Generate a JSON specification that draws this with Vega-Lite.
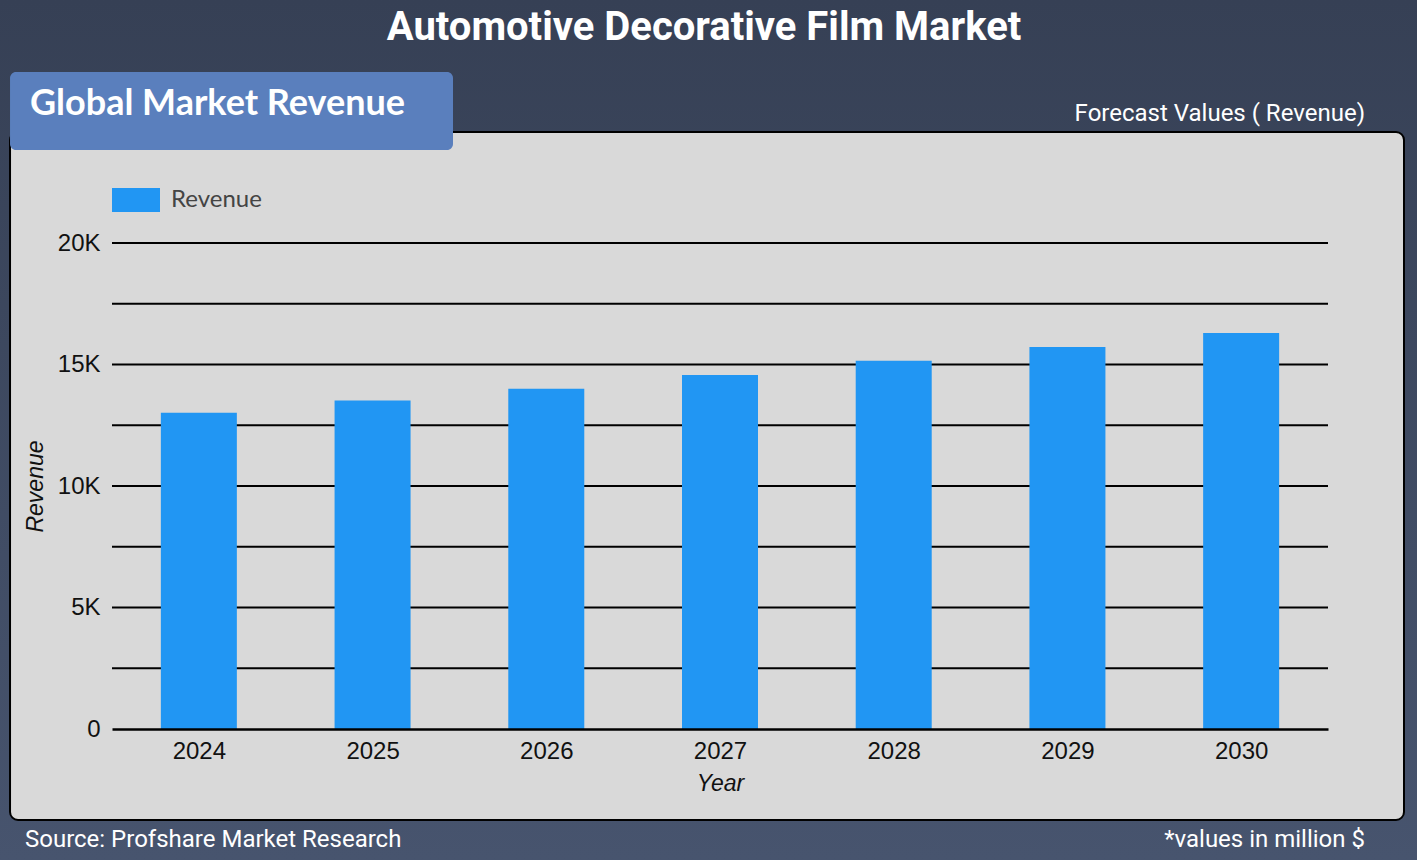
{
  "$schema": "https://vega.github.io/schema/vega-lite/v6.json",
  "width": 1216,
  "height": 486,
  "autosize": {"type": "none"},
  "padding": {"left": 112, "top": 243, "right": 89, "bottom": 131},
  "background": "#3d475c",
  "title": {
    "text": "Automotive Decorative Film Market",
    "font": "Roboto",
    "fontSize": 40,
    "fontWeight": "bold",
    "color": "#ffffff",
    "anchor": "middle",
    "frame": "group",
    "dx": -16,
    "dy": 52
  },
  "config": {
    "view": {"stroke": null}
  },
  "data": {
    "values": [
      {"Year": 2024, "Revenue": 13010},
      {"Year": 2025, "Revenue": 13520},
      {"Year": 2026, "Revenue": 14000},
      {"Year": 2027, "Revenue": 14570},
      {"Year": 2028, "Revenue": 15150},
      {"Year": 2029, "Revenue": 15720},
      {"Year": 2030, "Revenue": 16300}
    ]
  },
  "layer": [
    {
      "data": {"values": [{}]},
      "mark": {"type": "rect", "color": {"gradient": "linear", "x1": 0, "y1": 0, "x2": 0, "y2": 1, "stops": [{"offset": 0, "color": "#364055"}, {"offset": 1, "color": "#47546e"}]}},
      "encoding": {
        "x": {"datum": 2022.85, "type": "quantitative"},
        "x2": {"datum": 2031.02},
        "y": {"datum": 30010, "type": "quantitative"},
        "y2": {"datum": -5400}
      }
    },
    {
      "data": {"values": [{}]},
      "mark": {"type": "rect", "fill": "#d9d9d9", "stroke": "#000000", "strokeWidth": 2, "cornerRadius": 8},
      "encoding": {
        "x": {"datum": 2022.913, "type": "quantitative"},
        "x2": {"datum": 2030.9375},
        "y": {"datum": 24568, "type": "quantitative"},
        "y2": {"datum": -3745}
      }
    },
    {
      "data": {"values": [{}]},
      "mark": {"type": "rect", "fill": "#5a7fbd", "cornerRadius": 6},
      "encoding": {
        "x": {"datum": 2022.913, "type": "quantitative"},
        "x2": {"datum": 2025.463},
        "y": {"datum": 27037, "type": "quantitative"},
        "y2": {"datum": 23827}
      }
    },
    {
      "data": {"values": [{}]},
      "mark": {"type": "text", "text": "Global Market Revenue", "font": "Lato", "fontSize": 36, "fontWeight": "bold", "color": "#ffffff", "align": "left", "baseline": "middle"},
      "encoding": {
        "x": {"datum": 2023.028, "type": "quantitative"},
        "y": {"datum": 25720, "type": "quantitative"}
      }
    },
    {
      "data": {"values": [{}]},
      "mark": {"type": "text", "text": "Forecast Values ( Revenue)", "font": "Roboto", "fontSize": 24, "color": "#ffffff", "align": "right", "baseline": "middle"},
      "encoding": {
        "x": {"datum": 2030.713, "type": "quantitative"},
        "y": {"datum": 25309, "type": "quantitative"}
      }
    },
    {
      "data": {"values": [{}]},
      "mark": {"type": "text", "text": "Source: Profshare Market Research", "font": "Roboto", "fontSize": 24, "color": "#ffffff", "align": "left", "baseline": "middle"},
      "encoding": {
        "x": {"datum": 2022.999, "type": "quantitative"},
        "y": {"datum": -4568, "type": "quantitative"}
      }
    },
    {
      "data": {"values": [{}]},
      "mark": {"type": "text", "text": "*values in million $", "font": "Roboto", "fontSize": 24, "color": "#ffffff", "align": "right", "baseline": "middle"},
      "encoding": {
        "x": {"datum": 2030.713, "type": "quantitative"},
        "y": {"datum": -4568, "type": "quantitative"}
      }
    },
    {
      "data": {"values": [{"g": 2500}, {"g": 5000}, {"g": 7500}, {"g": 10000}, {"g": 12500}, {"g": 15000}, {"g": 17500}, {"g": 20000}]},
      "mark": {"type": "rule", "color": "#000000", "strokeWidth": 2},
      "encoding": {
        "x": {"datum": 2023.5, "type": "quantitative"},
        "x2": {"datum": 2030.5},
        "y": {"field": "g", "type": "quantitative"}
      }
    },
    {
      "mark": {"type": "bar", "size": 76},
      "encoding": {
        "x": {
          "field": "Year",
          "type": "quantitative",
          "scale": {"domain": [2023.5, 2030.5], "nice": false, "zero": false, "padding": 0},
          "axis": {
            "zindex": 1,
            "values": [2024, 2025, 2026, 2027, 2028, 2029, 2030],
            "format": "d",
            "grid": false,
            "ticks": false,
            "domain": true,
            "domainColor": "#000000",
            "domainWidth": 2.5,
            "labelFont": "Liberation Sans",
            "labelFontSize": 24,
            "labelColor": "#111111",
            "labelPadding": 10,
            "title": "Year",
            "titleFont": "Liberation Sans",
            "titleFontSize": 23,
            "titleFontStyle": "italic",
            "titleFontWeight": "normal",
            "titleColor": "#111111",
            "titlePadding": 9
          }
        },
        "y": {
          "field": "Revenue",
          "type": "quantitative",
          "scale": {"domain": [0, 20000], "nice": false, "padding": 0},
          "axis": {
            "zindex": 1,
            "values": [0, 5000, 10000, 15000, 20000],
            "labelExpr": "datum.value == 0 ? '0' : (datum.value / 1000) + 'K'",
            "grid": false,
            "ticks": false,
            "domain": false,
            "labelFont": "Liberation Sans",
            "labelFontSize": 24,
            "labelColor": "#111111",
            "labelPadding": 12,
            "title": "Revenue",
            "titleFont": "Liberation Sans",
            "titleFontSize": 23,
            "titleFontStyle": "italic",
            "titleFontWeight": "normal",
            "titleColor": "#111111",
            "titlePadding": 10
          }
        },
        "color": {
          "datum": "Revenue",
          "type": "nominal",
          "scale": {"range": ["#2196f3"]},
          "legend": {
            "title": null,
            "orient": "none",
            "legendX": 0,
            "legendY": -67,
            "symbolType": "M-1,-0.5L1,-0.5L1,0.5L-1,0.5Z",
            "symbolSize": 2304,
            "symbolStrokeWidth": 0,
            "symbolOpacity": 1,
            "labelFont": "Lato",
            "labelFontSize": 24,
            "labelColor": "#444444",
            "labelOffset": 11
          }
        }
      }
    }
  ]
}
